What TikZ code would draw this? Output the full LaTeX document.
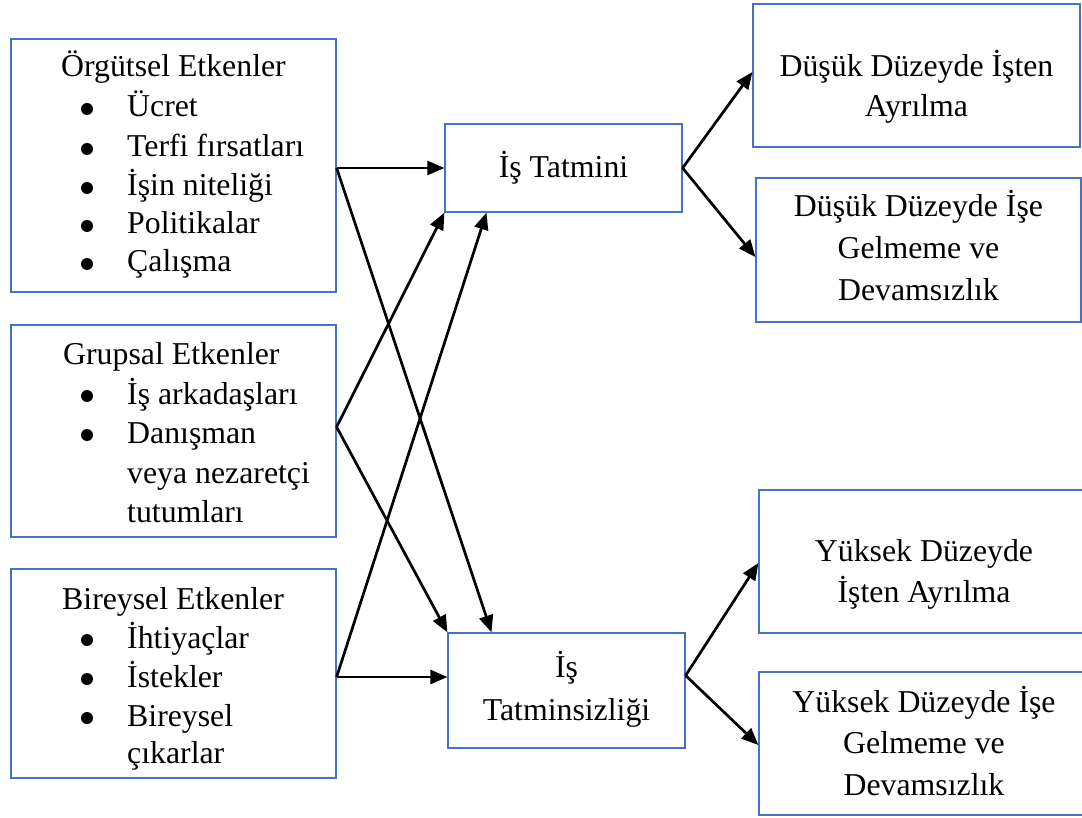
\documentclass[tikz,border=0pt]{standalone}
\usepackage{fontspec}
\setmainfont{Liberation Serif}
\usetikzlibrary{arrows.meta}
\definecolor{boxblue}{RGB}{68,114,196}
\begin{document}
\begin{tikzpicture}[x=1pt,y=-1pt,
  box/.style={draw=boxblue,line width=1.2pt,inner sep=0pt,fill=none},
  txt/.style={font=\fontsize{31.8}{39}\selectfont,inner sep=0pt},
  bul/.style={circle,fill=black,minimum size=12pt,inner sep=0pt},
  arr/.style={line width=2.7pt,-{Triangle[length=17pt,width=14pt]}}]
\useasboundingbox (0,0) rectangle (1082,818);
\begin{scope}
\clip (0,0) rectangle (1082,818);
% boxes
\node[box,minimum width=325pt,minimum height=253pt] (L1) at (173.5,165.5) {};
\node[box,minimum width=325pt,minimum height=212pt] (L2) at (173.5,431) {};
\node[box,minimum width=325pt,minimum height=209pt] (L3) at (173.5,673.5) {};
\node[box,minimum width=237pt,minimum height=88pt] (M1) at (563.5,168) {};
\node[box,minimum width=237pt,minimum height=115pt] (M2) at (566.5,690.5) {};
\node[box,minimum width=327pt,minimum height=143pt] (R1) at (916.5,75.5) {};
\node[box,minimum width=325pt,minimum height=144pt] (R2) at (918.5,250) {};
\node[box,minimum width=330pt,minimum height=143pt] (R3) at (924,561.5) {};
\node[box,minimum width=330pt,minimum height=143pt] (R4) at (924,743.5) {};
\end{scope}
% left box 1 text
\node[txt,anchor=base west] (L1h) at (61,77) {Örgütsel Etkenler};
\node[bul] (L1b1) at (87,109) {};
\node[bul] (L1b2) at (87,149) {};
\node[bul] (L1b3) at (87,188) {};
\node[bul] (L1b4) at (87,226) {};
\node[bul] (L1b5) at (87,264) {};
\node[txt,anchor=base west] (L1i1) at (127,117) {Ücret};
\node[txt,anchor=base west] (L1i2) at (127,157) {Terfi fırsatları};
\node[txt,anchor=base west] (L1i3) at (127,196) {İşin niteliği};
\node[txt,anchor=base west] (L1i4) at (127,234) {Politikalar};
\node[txt,anchor=base west] (L1i5) at (127,272) {Çalışma};
% left box 2 text
\node[txt,anchor=base west] (L2h) at (63,365) {Grupsal Etkenler};
\node[bul] (L2b1) at (87,396) {};
\node[bul] (L2b2) at (87,435) {};
\node[txt,anchor=base west] (L2i1) at (127,404) {İş arkadaşları};
\node[txt,anchor=base west] (L2i2) at (127,443) {Danışman};
\node[txt,anchor=base west] (L2i3) at (127,483) {veya nezaretçi};
\node[txt,anchor=base west] (L2i4) at (127,522) {tutumları};
% left box 3 text
\node[txt,anchor=base west] (L3h) at (62,609) {Bireysel Etkenler};
\node[bul] (L3b1) at (87,640) {};
\node[bul] (L3b2) at (87,679) {};
\node[bul] (L3b3) at (87,718) {};
\node[txt,anchor=base west] (L3i1) at (127,648) {İhtiyaçlar};
\node[txt,anchor=base west] (L3i2) at (127,687) {İstekler};
\node[txt,anchor=base west] (L3i3) at (127,726) {Bireysel};
\node[txt,anchor=base west] (L3i4) at (127,763) {çıkarlar};
% middle texts
\node[txt,anchor=base] (M1t) at (563.5,178) {İş Tatmini};
\node[txt,anchor=base] (M2t1) at (566.5,677) {İş};
\node[txt,anchor=base] (M2t2) at (566.5,720) {Tatminsizliği};
% right texts
\node[txt,anchor=base] (R1t1) at (916.5,77) {Düşük Düzeyde İşten};
\node[txt,anchor=base] (R1t2) at (916.5,117) {Ayrılma};
\node[txt,anchor=base] (R2t1) at (918.5,217) {Düşük Düzeyde İşe};
\node[txt,anchor=base] (R2t2) at (918.5,259) {Gelmeme ve};
\node[txt,anchor=base] (R2t3) at (918.5,301) {Devamsızlık};
\node[txt,anchor=base] (R3t1) at (924,561) {Yüksek Düzeyde};
\node[txt,anchor=base] (R3t2) at (924,602) {İşten Ayrılma};
\node[txt,anchor=base] (R4t1) at (924,712) {Yüksek Düzeyde İşe};
\node[txt,anchor=base] (R4t2) at (924,753) {Gelmeme ve};
\node[txt,anchor=base] (R4t3) at (924,795) {Devamsızlık};
% arrows left -> middle
\draw[arr] ([yshift=-2.5pt]L1.east) -- (M1.west);
\draw[arr] ([yshift=-2.5pt]L1.east) -- ([xshift=-75pt]M2.north);
\draw[arr] ([yshift=4pt]L2.east) -- (M1.south west);
\draw[arr] ([yshift=4pt]L2.east) -- (M2.north west);
\draw[arr] ([yshift=-3.5pt]L3.east) -- ([xshift=-77pt]M1.south);
\draw[arr] ([yshift=-3.5pt]L3.east) -- ([yshift=13.5pt]M2.west);
% arrows middle -> right
\draw[arr] (M1.east) -- ([yshift=3.5pt]R1.west);
\draw[arr] (M1.east) -- ([yshift=-7pt]R2.west);
\draw[arr] ([yshift=15pt]M2.east) -- ([yshift=-1.5pt]R3.west);
\draw[arr] ([yshift=15pt]M2.east) -- ([yshift=-1.5pt]R4.west);
\end{tikzpicture}
\end{document}
